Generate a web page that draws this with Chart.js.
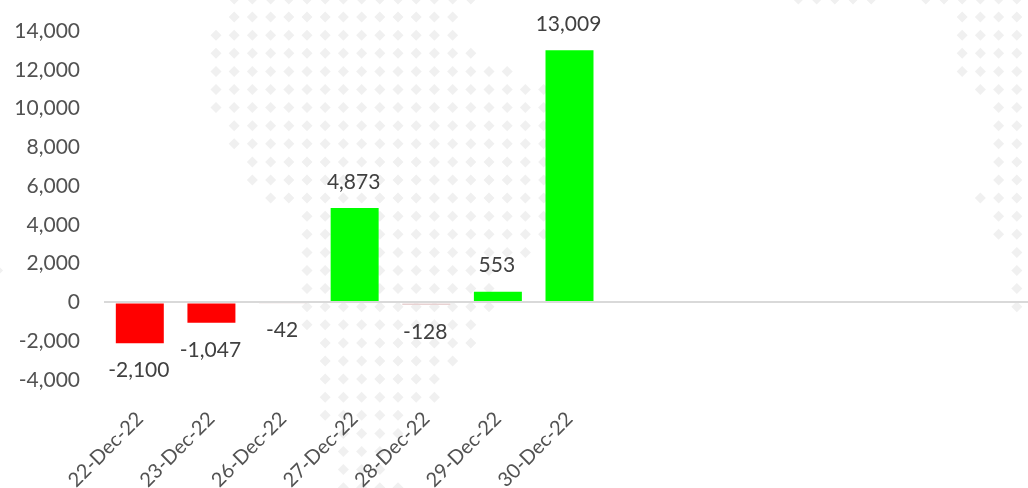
<!DOCTYPE html>
<html>
<head>
<meta charset="utf-8">
<style>
html,body{margin:0;padding:0;background:#fff;overflow:hidden;width:1028px;height:488px}
#wrap{position:relative;width:1035px;height:488px}
</style>
<script src="https://cdn.jsdelivr.net/npm/chart.js@4"></script>
</head>
<body>
<div id="wrap"><canvas id="c"></canvas></div>
<script>
const categories = ['22-Dec-22','23-Dec-22','26-Dec-22','27-Dec-22','28-Dec-22','29-Dec-22','30-Dec-22','','','','','',''];
const values = [-2100,-1047,-42,4873,-128,553,13009];
const yMin = -4000, yMax = 14000, yStep = 2000;
const upColor = '#00ff00', downColor = '#ff0000', tinyDownColor = '#e8d2d2';

const FONT = 'Lato';
const FONT_SIZE = 21;

// decorative dotted world-map watermark behind the chart: [row, firstColumn, lastColumn]
const watermarkSpans = [
 [0,1,14],[1,1,13],[2,0,13],[3,0,14],[4,0,16],[5,0,18],[6,0,18],[7,1,18],[8,1,18],[9,2,18],[10,2,18],
 [11,3,18],[12,5,18],[13,5,18],[14,5,17],[15,5,15],[16,5,15],[17,5,15],[18,5,14],[19,6,14],[20,6,13],
 [21,6,12],[22,6,12],[23,6,10],[24,7,10],[25,7,9],[26,7,9],[27,7,10],
 [0,32,36],[0,39,44],[1,41,44],[2,41,44],[3,41,44],[4,41,44],[5,42,44],[6,43,44],[7,43,44],[8,43,44],
 [9,43,44],[10,43,44],[11,42,44],[12,43,44],[13,43,44],[14,44,44],[15,44,44],[16,44,44],[17,44,44],
 [15,-12,-12]
];

const watermark = {
  id:'watermark',
  beforeDraw(chart){
    const g = chart.ctx;
    g.save();
    g.fillStyle = '#f0f0f0';
    const r = 5.5;
    for(const [row,a,b] of watermarkSpans){
      for(let col=a; col<=b; col++){
        const x = 216 + col*18.2, y = -1 + row*18.1;
        g.beginPath();
        g.moveTo(x,y-r); g.lineTo(x+r,y); g.lineTo(x,y+r); g.lineTo(x-r,y);
        g.closePath(); g.fill();
      }
    }
    g.restore();
  }
};

const barLabels = {
  id:'barLabels',
  afterDatasetsDraw(chart){
    const g = chart.ctx, meta = chart.getDatasetMeta(0);
    g.save();
    g.font = FONT_SIZE+'px '+FONT;
    g.fillStyle = '#404040';
    g.textAlign = 'center';
    g.textBaseline = 'middle';
    meta.data.forEach((bar,i)=>{
      const v = values[i];
      g.fillText(v.toLocaleString('en-US'), bar.x-1, bar.y + (v<0 ? 27 : -26));
    });
    g.restore();
  }
};

const noPadding = s => { s.paddingLeft = s.paddingRight = s.paddingTop = s.paddingBottom = 0; };

new Chart(document.getElementById('c'),{
  type:'bar',
  data:{
    labels:categories,
    datasets:[{
      data:values,
      backgroundColor:values.map(v=>v>=0?upColor:(v>-500?tinyDownColor:downColor)),
      borderWidth:0,
      barPercentage:0.67,
      categoryPercentage:1
    }]
  },
  options:{
    responsive:true,
    maintainAspectRatio:false,
    animation:false,
    layout:{padding:{top:31,right:0,left:0,bottom:0}},
    plugins:{legend:{display:false},tooltip:{enabled:false},title:{display:false}},
    scales:{
      x:{
        grid:{display:false,drawTicks:false},
        border:{display:false},
        ticks:{autoSkip:false,maxRotation:45,minRotation:45,color:'#525252',padding:27,font:{family:FONT,size:20}},
        afterFit(s){s.height=108; noPadding(s);}
      },
      y:{
        min:yMin,max:yMax,
        grid:{
          z:1,
          drawTicks:false,
          color:c=>c.tick.value===0?'#d9d9d9':'rgba(0,0,0,0)',
          lineWidth:2
        },
        border:{display:false},
        ticks:{stepSize:yStep,color:'#525252',padding:24,font:{family:FONT,size:FONT_SIZE},
          callback:v=>Number(v).toLocaleString('en-US')},
        afterFit(s){s.width=104; noPadding(s);}
      }
    }
  },
  plugins:[watermark,barLabels]
});
</script>
</body>
</html>
